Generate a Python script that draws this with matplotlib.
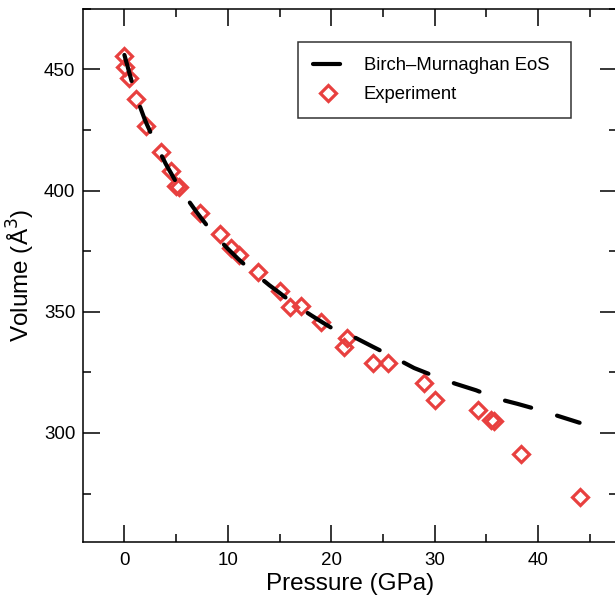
import matplotlib
matplotlib.use('Agg')
import matplotlib.pyplot as plt
from matplotlib.ticker import MultipleLocator

plt.rcParams['font.family'] = ['Liberation Sans', 'DejaVu Sans']

# Experimental P-V data
p_exp = [0.0, 0.07, 0.45, 1.1, 2.1, 3.5, 4.5, 5.0, 5.3, 7.3, 9.2, 10.3, 11.1,
         12.9, 15.0, 16.0, 17.1, 19.05, 21.5, 21.2, 24.0, 25.5, 29.0, 30.0,
         34.2, 35.4, 35.7, 38.3, 44.0]
v_exp = [455.5, 451.0, 446.4, 437.7, 426.6, 415.8, 408.0, 402.0, 401.3, 390.8,
         381.9, 376.4, 373.4, 366.5, 358.5, 352.1, 352.3, 345.9, 339.1, 335.3,
         328.7, 328.7, 320.5, 313.6, 309.4, 305.3, 304.9, 291.3, 273.7]

# Birch-Murnaghan fit curve
p_fit = [0, 1, 2, 3, 4, 5, 6, 7, 8, 9, 10, 11, 12, 13, 14, 15, 16, 17, 18, 19,
         20, 22, 24, 26, 28, 30, 32, 34, 36, 38, 40, 42, 44]
v_fit = [456.0, 440.5, 429.0, 419.5, 411.0, 403.5, 397.0, 391.0, 385.5, 380.5,
         376.0, 371.8, 368.0, 364.5, 361.0, 357.8, 354.5, 351.5, 348.7, 346.0,
         343.4, 340.0, 335.6, 331.3, 326.8, 323.4, 320.3, 317.6, 314.2, 312.0,
         309.6, 306.9, 304.2]

fig = plt.figure(figsize=(6.15, 6.01), dpi=100)
ax = fig.add_axes([0.135, 0.0982, 0.868, 0.887])

ax.plot(p_exp, v_exp, linestyle='none', marker='D', ms=8.5, mfc='none',
        mec='#e8403f', mew=2.3, label='Experiment', zorder=2)
ax.plot(p_fit, v_fit, color='black', lw=3, dashes=(6.5, 6.5),
        dash_capstyle='round', label='Birch\u2013Murnaghan EoS', zorder=3)

ax.set_xlim(-4, 47.6)
ax.set_ylim(255, 475)
ax.xaxis.set_major_locator(MultipleLocator(10))
ax.xaxis.set_minor_locator(MultipleLocator(5))
ax.yaxis.set_major_locator(MultipleLocator(50))
ax.yaxis.set_minor_locator(MultipleLocator(25))
ax.tick_params(which='both', direction='in', top=True, right=True, width=1.1,
               labelsize=13.5)
ax.tick_params(axis='y', which='major', length=12, pad=5.5)
ax.tick_params(axis='x', which='major', length=12, pad=7)
ax.tick_params(which='minor', length=6)
for s in ax.spines.values():
    s.set_linewidth(1.1)

ax.set_xlabel('Pressure (GPa)', fontsize=17.5, labelpad=3)
ax.set_ylabel('Volume (Å$^3$)', fontsize=17.5, labelpad=5)

handles, labels = ax.get_legend_handles_labels()
leg = ax.legend(handles[::-1], labels[::-1], loc='upper left',
                bbox_to_anchor=(0.403, 0.801, 0.511, 0.136), mode='expand',
                fontsize=13.3, frameon=True, fancybox=False, edgecolor='black',
                handlelength=1.6, handletextpad=1.15, labelspacing=0.65,
                borderpad=0.8, borderaxespad=0)
leg.get_frame().set_linewidth(1.1)

fig.savefig('out.png', dpi=100)
